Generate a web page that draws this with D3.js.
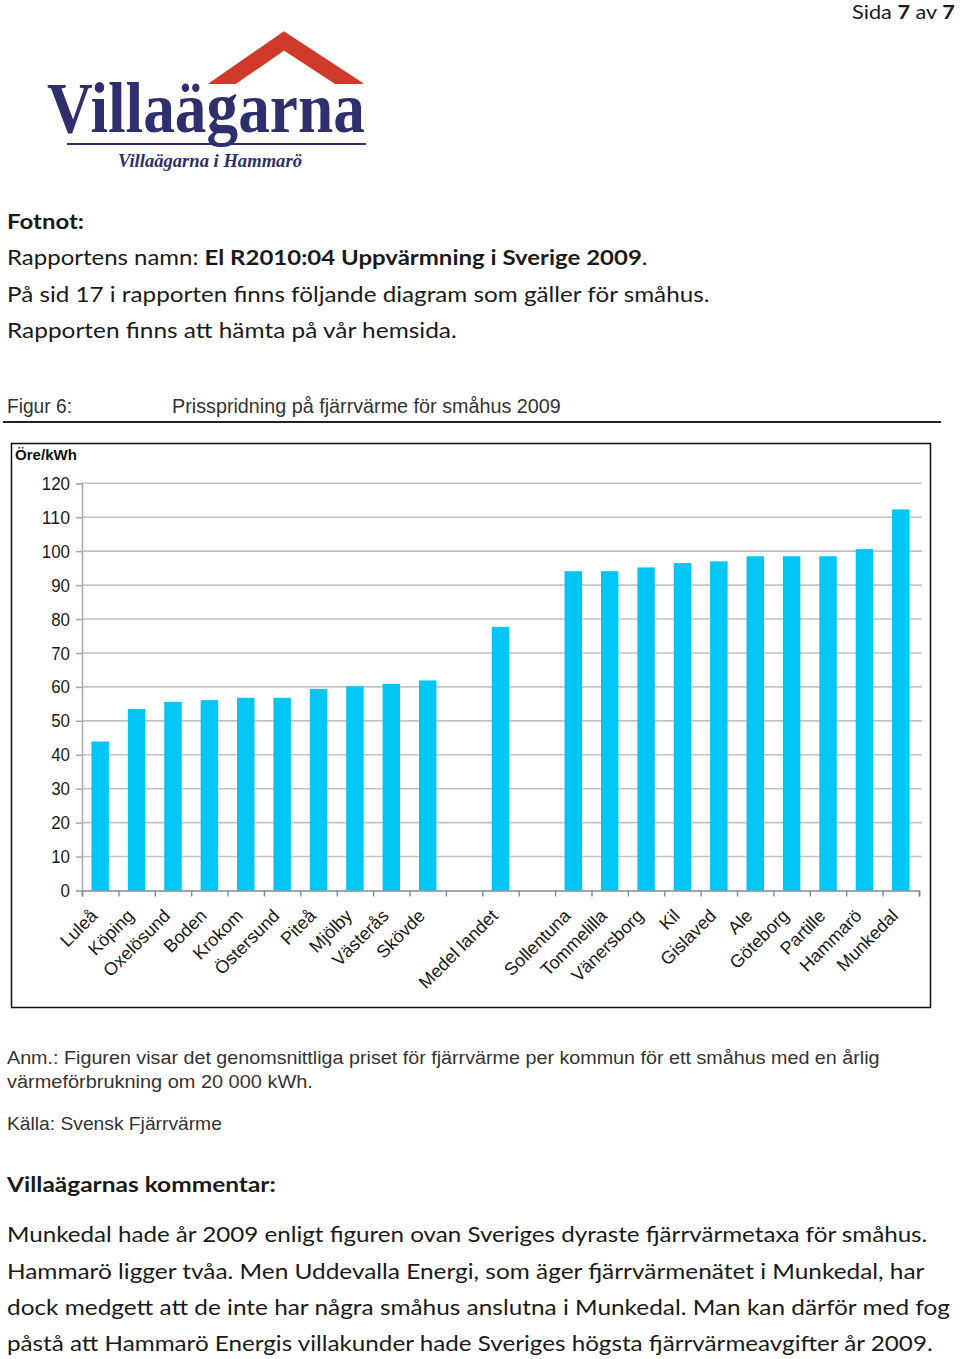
<!DOCTYPE html>
<html><head><meta charset="utf-8">
<script src="https://cdn.jsdelivr.net/npm/d3@7/dist/d3.min.js"></script>
<style>body{margin:0;background:#fff}svg{display:block}</style>
</head><body>
<script>
// ---- data ----
const categories = ["Luleå","Köping","Oxelösund","Boden","Krokom","Östersund","Piteå","Mjölby","Västerås","Skövde","","Medel landet","","Sollentuna","Tommelilla","Vänersborg","Kil","Gislaved","Ale","Göteborg","Partille","Hammarö","Munkedal"];
const values = [43.9,53.5,55.6,56.1,56.8,56.8,59.4,60.2,60.9,61.9,null,77.7,null,94.1,94.1,95.2,96.5,97.0,98.5,98.5,98.5,100.6,112.3];
const yTicks = [0,10,20,30,40,50,60,70,80,90,100,110,120];
const yUnit = "Öre/kWh";
const figLabel = "Figur 6:";
const chartTitle = "Prisspridning på fjärrvärme för småhus 2009";
const noteLines = ["Anm.: Figuren visar det genomsnittliga priset för fjärrvärme per kommun för ett småhus med en årlig","värmeförbrukning om 20 000 kWh."];
const sourceLine = "Källa: Svensk Fjärrvärme";
const commentLines = ["Munkedal hade år 2009 enligt figuren ovan Sveriges dyraste fjärrvärmetaxa för småhus.","Hammarö ligger tvåa. Men Uddevalla Energi, som äger fjärrvärmenätet i Munkedal, har","dock medgett att de inte har några småhus anslutna i Munkedal. Man kan därför med fog","påstå att Hammarö Energis villakunder hade Sveriges högsta fjärrvärmeavgifter år 2009."];

const W = 960, H = 1359;
const svg = d3.select("body").append("svg").attr("width", W).attr("height", H);

function fit(sel, x, y, width) {
  const node = sel.node();
  const w = node.getComputedTextLength();
  const s = width / w;
  sel.attr("x", 0).attr("y", 0).attr("transform", `translate(${x},${y}) scale(${s},1)`);
  return sel;
}

const bodyFont = "Lato, 'Open Sans', sans-serif";
const condFont = "'Liberation Sans Narrow', 'Liberation Sans', Arial, sans-serif";
const txtCol = "#1a1a1a";

// ---- page header ----
const sida = svg.append("text").attr("font-family", bodyFont).attr("font-size", 19).attr("fill", txtCol);
sida.append("tspan").text("Sida ");
sida.append("tspan").attr("font-weight", "bold").text("7");
sida.append("tspan").text(" av ");
sida.append("tspan").attr("font-weight", "bold").text("7");
fit(sida, 852, 19, 103);

// ---- logo ----
const logoBlue = "#2e2f6d", logoRed = "#d13a2b";
svg.append("polyline").attr("points", "213,90 284,41 359,90")
  .attr("fill", "none").attr("stroke", logoRed).attr("stroke-width", 16).attr("stroke-linejoin", "miter");
svg.append("rect").attr("x", 200).attr("y", 84).attr("width", 170).attr("height", 14).attr("fill", "#fff");
const logoT = svg.append("text").attr("font-family", "'Liberation Serif', 'DejaVu Serif', serif")
  .attr("font-size", 72).attr("font-weight", "bold").attr("fill", logoBlue).text("Villaägarna");
fit(logoT, 47, 132, 318);
svg.append("line").attr("x1", 67).attr("x2", 366).attr("y1", 144).attr("y2", 144)
  .attr("stroke", logoBlue).attr("stroke-width", 2);
const logoS = svg.append("text").attr("font-family", "'Liberation Serif', serif")
  .attr("font-size", 18).attr("font-weight", "bold").attr("font-style", "italic").attr("fill", logoBlue)
  .text("Villaägarna i Hammarö");
fit(logoS, 118, 167, 184);

// ---- intro text ----
const t1 = svg.append("text").attr("font-family", bodyFont).attr("font-size", 21).attr("font-weight", "bold").attr("fill", txtCol).text("Fotnot:");
fit(t1, 7, 229, 77);
const t2 = svg.append("text").attr("font-family", bodyFont).attr("font-size", 21).attr("fill", txtCol);
t2.append("tspan").text("Rapportens namn: ");
t2.append("tspan").attr("font-weight", "bold").text("El R2010:04 Uppvärmning i Sverige 2009");
t2.append("tspan").text(".");
fit(t2, 7, 265, 641);
const t3 = svg.append("text").attr("font-family", bodyFont).attr("font-size", 21).attr("fill", txtCol).text("På sid 17 i rapporten finns följande diagram som gäller för småhus.");
fit(t3, 7, 302, 703);
const t4 = svg.append("text").attr("font-family", bodyFont).attr("font-size", 21).attr("fill", txtCol).text("Rapporten finns att hämta på vår hemsida.");
fit(t4, 7, 338, 450);

// ---- figure title ----
const f1 = svg.append("text").attr("font-family", condFont).attr("font-size", 20).attr("fill", "#333").text(figLabel);
fit(f1, 7, 413, 65);
const f2 = svg.append("text").attr("font-family", condFont).attr("font-size", 20).attr("fill", "#333").text(chartTitle);
fit(f2, 172, 413, 389);
svg.append("line").attr("x1", 3).attr("x2", 941).attr("y1", 422).attr("y2", 422).attr("stroke", "#222").attr("stroke-width", 2);

// ---- chart box ----
svg.append("rect").attr("x", 11.5).attr("y", 443.5).attr("width", 919).attr("height", 564)
  .attr("fill", "#fff").attr("stroke", "#111").attr("stroke-width", 1.5);

const unitT = svg.append("text").attr("font-family", "'Liberation Sans', Arial, sans-serif").attr("font-size", 14)
  .attr("font-weight", "bold").attr("fill", "#111").text(yUnit);
fit(unitT, 15, 460, 62);

const x = d3.scaleBand().domain(d3.range(categories.length)).range([82, 919]).paddingInner(0.52).paddingOuter(0.26);
const xb = d3.scaleLinear().domain([0, categories.length]).range([82, 919]);
const y = d3.scaleLinear().domain([0, 120]).range([890.5, 483.3]);

// gridlines
svg.append("g").selectAll("line").data(yTicks.filter(d => d > 0)).join("line")
  .attr("x1", 82).attr("x2", 922).attr("y1", d => y(d)).attr("y2", d => y(d))
  .attr("stroke", "#c4c4c4").attr("stroke-width", 1.6);

// y axis
const yAxis = svg.append("g").attr("transform", "translate(82,0)")
  .call(d3.axisLeft(y).tickValues(yTicks).tickSize(6).tickPadding(6));
yAxis.select(".domain").attr("stroke", "#a8a8a8").attr("stroke-width", 1.5);
yAxis.selectAll(".tick line").attr("stroke", "#a8a8a8").attr("stroke-width", 1.5);
yAxis.selectAll(".tick text").attr("font-family", "'Liberation Sans', Arial, sans-serif")
  .attr("font-size", 19).attr("fill", "#1a1a1a")
  .attr("textLength", d => String(d).length * 9.4).attr("lengthAdjust", "spacingAndGlyphs");

// bars
svg.append("g").selectAll("rect").data(values.map((v, i) => ({v, i})).filter(d => d.v != null)).join("rect")
  .attr("x", d => x(d.i)).attr("width", x.bandwidth())
  .attr("y", d => y(d.v)).attr("height", d => y(0) - y(d.v))
  .attr("fill", "#00c6f5");

// x axis
const xAxisG = svg.append("g").attr("transform", `translate(0,${y(0)})`)
  .call(d3.axisBottom(xb).tickValues(d3.range(categories.length + 1)).tickSize(6).tickFormat(""));
xAxisG.select(".domain").attr("stroke", "#7d8a96").attr("stroke-width", 1.6);
xAxisG.selectAll(".tick line").attr("stroke", "#7d8a96").attr("stroke-width", 1.4);

svg.append("g").selectAll("text").data(categories.map((c, i) => ({c, i})).filter(d => d.c)).join("text")
  .attr("transform", d => `translate(${x(d.i) + x.bandwidth() / 2 - 6},${y(0) + 22}) rotate(-45)`)
  .attr("text-anchor", "end").attr("dy", "0.35em")
  .attr("font-family", "'Liberation Sans', Arial, sans-serif").attr("font-size", 18).attr("fill", "#1a1a1a")
  .text(d => d.c);

// ---- notes ----
const n1 = svg.append("text").attr("font-family", condFont).attr("font-size", 19).attr("fill", "#333").text(noteLines[0]);
fit(n1, 7, 1064, 873);
const n2 = svg.append("text").attr("font-family", condFont).attr("font-size", 19).attr("fill", "#333").text(noteLines[1]);
fit(n2, 7, 1088, 306);
const n3 = svg.append("text").attr("font-family", condFont).attr("font-size", 19).attr("fill", "#333").text(sourceLine);
fit(n3, 7, 1130, 215);

// ---- comment ----
const c0 = svg.append("text").attr("font-family", bodyFont).attr("font-size", 21).attr("font-weight", "bold").attr("fill", txtCol).text("Villaägarnas kommentar:");
fit(c0, 7, 1192, 269);
const cw = [921, 918, 943, 926];
const cy = [1242, 1279, 1315, 1351];
commentLines.forEach((l, i) => {
  const t = svg.append("text").attr("font-family", bodyFont).attr("font-size", 21).attr("fill", txtCol).text(l);
  fit(t, 7, cy[i], cw[i]);
});
</script>
</body></html>
